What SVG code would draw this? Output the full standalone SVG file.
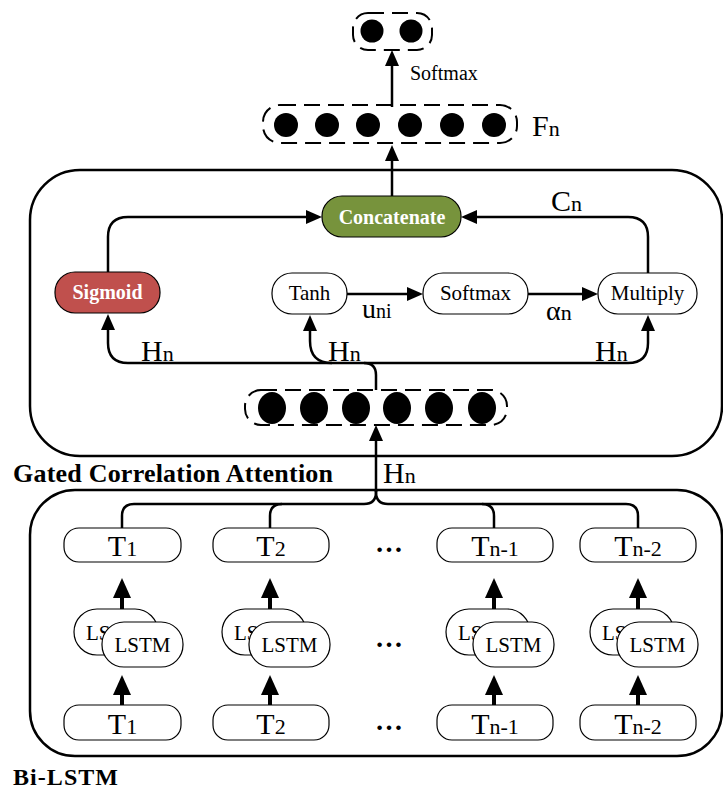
<svg xmlns="http://www.w3.org/2000/svg" width="723" height="789" viewBox="0 0 723 789">
  <style>
    .frame { fill: none; stroke: #000; stroke-width: 2.5; }
    .dash { fill: none; stroke: #000; stroke-width: 2; stroke-dasharray: 16 8; }
    .dot { fill: #000; }
    .node { fill: #fff; stroke: #000; stroke-width: 1.2; }
    .wire { fill: none; stroke: #000; stroke-width: 2.5; }
    .thick { fill: none; stroke: #000; stroke-width: 4; }
    .lbl { font-family: "Liberation Serif", "Times New Roman", serif; fill: #000; }
    .bold { font-family: "Liberation Serif", "Times New Roman", serif; font-weight: bold; }
  </style>
  <defs>
    <marker id="arr" viewBox="0 0 16 14" refX="2" refY="7" markerWidth="16" markerHeight="14" markerUnits="userSpaceOnUse" orient="auto">
      <path d="M0,0 L16,7 L0,14 z" fill="#000"/>
    </marker>
    <marker id="arrB" viewBox="0 0 20 18" refX="2" refY="9" markerWidth="20" markerHeight="18" markerUnits="userSpaceOnUse" orient="auto">
      <path d="M0,0 L20,9 L0,18 z" fill="#000"/>
    </marker>
  </defs>

  <!-- container frames -->
  <rect class="frame" x="30" y="170" width="692" height="286" rx="50"/>
  <rect class="frame" x="30" y="490" width="692" height="266" rx="45"/>
  <text class="bold" x="13" y="482" font-size="26" textLength="320">Gated Correlation Attention</text>
  <text class="bold" x="13" y="785" font-size="24" textLength="105">Bi-LSTM</text>

  <!-- output layer -->
  <g id="output">
    <rect class="dash" x="353" y="13" width="79" height="37" rx="15"/>
    <circle class="dot" cx="372" cy="31" r="11.5"/>
    <circle class="dot" cx="411" cy="31" r="11.5"/>
  </g>

  <!-- fused feature layer F_n -->
  <g id="fn-layer">
    <rect class="dash" x="263" y="105" width="254" height="38" rx="17"/>
    <circle class="dot" cx="286" cy="125" r="12"/>
    <circle class="dot" cx="327" cy="125" r="12"/>
    <circle class="dot" cx="368" cy="125" r="12"/>
    <circle class="dot" cx="410" cy="125" r="12"/>
    <circle class="dot" cx="452" cy="125" r="12"/>
    <circle class="dot" cx="494" cy="125" r="12"/>
    <text class="lbl" x="532" y="136"><tspan font-size="30">F</tspan><tspan font-size="22">n</tspan></text>
  </g>

  <!-- hidden state layer H_n -->
  <g id="hn-layer">
    <rect class="dash" x="245" y="390" width="262" height="35" rx="16"/>
    <ellipse class="dot" cx="272" cy="408" rx="14" ry="16"/>
    <ellipse class="dot" cx="314" cy="408" rx="14" ry="16"/>
    <ellipse class="dot" cx="356" cy="408" rx="14" ry="16"/>
    <ellipse class="dot" cx="397" cy="408" rx="14" ry="16"/>
    <ellipse class="dot" cx="439" cy="408" rx="14" ry="16"/>
    <ellipse class="dot" cx="482" cy="408" rx="14" ry="16"/>
  </g>

  <!-- attention nodes -->
  <g id="concatenate">
    <rect x="322" y="196" width="139" height="41" rx="20" fill="#77933C" stroke="#000" stroke-width="1.2"/>
    <text class="bold" x="392" y="224" font-size="20" fill="#fff" text-anchor="middle">Concatenate</text>
  </g>
  <g id="sigmoid">
    <rect x="55" y="272" width="105" height="41" rx="20" fill="#C0504D" stroke="#000" stroke-width="1.2"/>
    <text class="bold" x="107.5" y="299" font-size="20" fill="#fff" text-anchor="middle">Sigmoid</text>
  </g>
  <g id="tanh">
    <rect class="node" x="272" y="273" width="75" height="41" rx="20"/>
    <text class="lbl" x="309.5" y="300" font-size="21" text-anchor="middle">Tanh</text>
  </g>
  <g id="softmax">
    <rect class="node" x="423" y="273" width="105" height="41" rx="20"/>
    <text class="lbl" x="475.5" y="300" font-size="21" text-anchor="middle">Softmax</text>
  </g>
  <g id="multiply">
    <rect class="node" x="598" y="273" width="99" height="41" rx="20"/>
    <text class="lbl" x="647.5" y="300" font-size="21" text-anchor="middle">Multiply</text>
  </g>

  <!-- Bi-LSTM columns -->
  <g id="col-1">
    <rect class="node" x="64" y="528" width="117" height="34" rx="15"/>
    <text class="lbl" x="122.5" y="556" text-anchor="middle"><tspan font-size="30">T</tspan><tspan font-size="22">1</tspan></text>
    <rect class="node" x="74" y="609" width="84" height="46" rx="23"/>
    <text class="lbl" x="114" y="640" font-size="21" text-anchor="middle">LSTM</text>
    <rect class="node" x="102" y="622" width="81" height="45" rx="22"/>
    <text class="lbl" x="142.5" y="652" font-size="21" text-anchor="middle">LSTM</text>
    <rect class="node" x="64" y="705" width="117" height="35" rx="15"/>
    <text class="lbl" x="122.5" y="734" text-anchor="middle"><tspan font-size="30">T</tspan><tspan font-size="22">1</tspan></text>
  </g>
  <g id="col-2">
    <rect class="node" x="213" y="528" width="116" height="34" rx="15"/>
    <text class="lbl" x="271" y="556" text-anchor="middle"><tspan font-size="30">T</tspan><tspan font-size="22">2</tspan></text>
    <rect class="node" x="222" y="609" width="84" height="46" rx="23"/>
    <text class="lbl" x="262" y="640" font-size="21" text-anchor="middle">LSTM</text>
    <rect class="node" x="249" y="622" width="81" height="45" rx="22"/>
    <text class="lbl" x="289.5" y="652" font-size="21" text-anchor="middle">LSTM</text>
    <rect class="node" x="213" y="705" width="116" height="35" rx="15"/>
    <text class="lbl" x="271" y="734" text-anchor="middle"><tspan font-size="30">T</tspan><tspan font-size="22">2</tspan></text>
  </g>
  <g id="col-n1">
    <rect class="node" x="437" y="528" width="116" height="34" rx="15"/>
    <text class="lbl" x="495" y="556" text-anchor="middle"><tspan font-size="30">T</tspan><tspan font-size="22">n-1</tspan></text>
    <rect class="node" x="446" y="609" width="84" height="46" rx="23"/>
    <text class="lbl" x="486" y="640" font-size="21" text-anchor="middle">LSTM</text>
    <rect class="node" x="473" y="622" width="81" height="45" rx="22"/>
    <text class="lbl" x="513.5" y="652" font-size="21" text-anchor="middle">LSTM</text>
    <rect class="node" x="437" y="705" width="116" height="35" rx="15"/>
    <text class="lbl" x="495" y="734" text-anchor="middle"><tspan font-size="30">T</tspan><tspan font-size="22">n-1</tspan></text>
  </g>
  <g id="col-n2">
    <rect class="node" x="580" y="528" width="116" height="34" rx="15"/>
    <text class="lbl" x="638" y="556" text-anchor="middle"><tspan font-size="30">T</tspan><tspan font-size="22">n-2</tspan></text>
    <rect class="node" x="590" y="609" width="84" height="46" rx="23"/>
    <text class="lbl" x="630" y="640" font-size="21" text-anchor="middle">LSTM</text>
    <rect class="node" x="617" y="622" width="81" height="45" rx="22"/>
    <text class="lbl" x="657.5" y="652" font-size="21" text-anchor="middle">LSTM</text>
    <rect class="node" x="580" y="705" width="116" height="35" rx="15"/>
    <text class="lbl" x="638" y="734" text-anchor="middle"><tspan font-size="30">T</tspan><tspan font-size="22">n-2</tspan></text>
  </g>
  <g id="ellipses">
    <text class="bold" x="389" y="552" font-size="28" text-anchor="middle">…</text>
    <text class="bold" x="389" y="647" font-size="28" text-anchor="middle">…</text>
    <text class="bold" x="389" y="730" font-size="28" text-anchor="middle">…</text>
  </g>

  <!-- connectors -->
  <g id="connectors">
    <path class="wire" d="M392,107 V64" marker-end="url(#arr)"/>
    <path class="wire" d="M392,196 V159" marker-end="url(#arr)"/>
    <path class="wire" d="M108,272 V237 Q108,217 128,217 H308" marker-end="url(#arr)"/>
    <path class="wire" d="M648,273 V237 Q648,217 628,217 H475" marker-end="url(#arr)"/>
    <path class="wire" d="M347,294 H409" marker-end="url(#arr)"/>
    <path class="wire" d="M528,294 H584" marker-end="url(#arr)"/>
    <path class="wire" d="M366,363 H128 Q108,363 108,343 V328" marker-end="url(#arr)"/>
    <path class="wire" d="M366,363 H628 Q648,363 648,343 V329" marker-end="url(#arr)"/>
    <path class="wire" d="M332,363 Q310,363 310,341 V329" marker-end="url(#arr)"/>
    <path class="wire" d="M364,363 Q376,363 376,375 V390"/>
    <path class="wire" d="M376,492 V439" marker-end="url(#arr)"/>
    <path class="wire" d="M376,490 V492 Q376,504 364,504 H134 Q122,504 122,516 V528"/>
    <path class="wire" d="M282,504 Q270,504 270,516 V528"/>
    <path class="wire" d="M376,490 V492 Q376,504 388,504 H626 Q638,504 638,516 V528"/>
    <path class="wire" d="M482,504 Q494,504 494,516 V528"/>
    <path class="thick" d="M122,609 V596" marker-end="url(#arrB)"/>
    <path class="thick" d="M270,609 V596" marker-end="url(#arrB)"/>
    <path class="thick" d="M494,609 V596" marker-end="url(#arrB)"/>
    <path class="thick" d="M638,609 V596" marker-end="url(#arrB)"/>
    <path class="thick" d="M122,705 V693" marker-end="url(#arrB)"/>
    <path class="thick" d="M270,705 V693" marker-end="url(#arrB)"/>
    <path class="thick" d="M494,705 V693" marker-end="url(#arrB)"/>
    <path class="thick" d="M638,705 V693" marker-end="url(#arrB)"/>
  </g>

  <!-- connector labels -->
  <g id="labels">
    <text class="lbl" x="410" y="80" font-size="20">Softmax</text>
    <text class="lbl" x="551" y="211"><tspan font-size="30">C</tspan><tspan font-size="22">n</tspan></text>
    <text class="lbl" x="362" y="318"><tspan font-size="28">u</tspan><tspan font-size="20">ni</tspan></text>
    <text class="lbl" x="546" y="320"><tspan font-size="28">α</tspan><tspan font-size="22">n</tspan></text>
    <text class="lbl" x="141" y="361"><tspan font-size="30">H</tspan><tspan font-size="22">n</tspan></text>
    <text class="lbl" x="328" y="361"><tspan font-size="30">H</tspan><tspan font-size="22">n</tspan></text>
    <text class="lbl" x="595" y="361"><tspan font-size="30">H</tspan><tspan font-size="22">n</tspan></text>
    <text class="lbl" x="383" y="483"><tspan font-size="30">H</tspan><tspan font-size="22">n</tspan></text>
  </g>
</svg>
